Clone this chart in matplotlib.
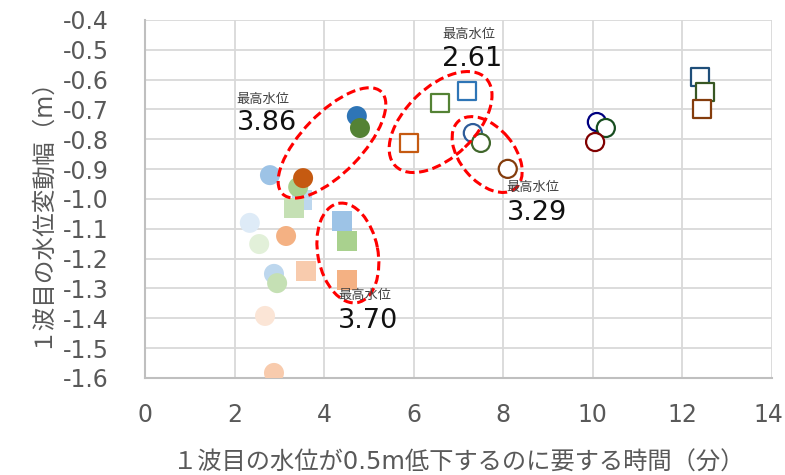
import matplotlib
matplotlib.use("Agg")
import matplotlib.pyplot as plt
from matplotlib.patches import Ellipse
from matplotlib import transforms

plt.rcParams['font.family'] = ['DejaVu Sans', 'Noto Sans CJK JP']

# filled circles (light ones first so the darker ones sit on top)
fc_x = [2.34, 2.55, 2.68, 2.88, 2.95, 2.88, 2.79, 3.42, 3.15, 4.73, 4.80, 3.53]
fc_y = [-1.080, -1.151, -1.392, -1.251, -1.282, -1.583, -0.920, -0.960, -1.124, -0.722, -0.762, -0.930]
fc_col = ['#DEEBF7', '#E2F0D9', '#FBE5D6', '#BDD7EE', '#C5E0B4', '#F8CBAD',
          '#9DC3E6', '#A9D18E', '#F4B183', '#2E75B6', '#548235', '#C55A11']

# filled squares
fs_x = [3.51, 3.33, 3.59, 4.40, 4.51, 4.51]
fs_y = [-1.003, -1.030, -1.241, -1.074, -1.141, -1.272]
fs_col = ['#BDD7EE', '#C5E0B4', '#F8CBAD', '#9DC3E6', '#A9D18E', '#F4B183']

# hollow squares
hs_x = [5.89, 6.59, 7.19, 12.39, 12.50, 12.44]
hs_y = [-0.812, -0.678, -0.638, -0.591, -0.641, -0.698]
hs_col = ['#C55A11', '#548235', '#2E75B6', '#1F4E79', '#385723', '#843C0C']

# hollow circles
hc_x = [7.32, 7.50, 8.10, 10.09, 10.29, 10.05]
hc_y = [-0.779, -0.812, -0.899, -0.742, -0.762, -0.809]
hc_col = ['#2E5C99', '#41672C', '#843C0C', '#000080', '#184D20', '#800000']

# 最高水位 annotations
ann_vals = ['3.86', '2.61', '3.29', '3.70']
ann_x = [2.05, 6.63, 8.08, 4.31]
ann_y_title = [-0.665, -0.447, -0.960, -1.325]
ann_y_val = [-0.744, -0.532, -1.047, -1.410]

# dashed groupings: centre (data), full width/height (px), angle (deg)
ell_cx = [4.175, 6.60, 7.64, 4.53]
ell_cy = [-0.812, -0.742, -0.851, -1.181]
ell_w = [142, 126, 88, 101]
ell_h = [60, 70, 54, 60]
ell_ang = [46, 44, 130, 101]

xticks = [0, 2, 4, 6, 8, 10, 12, 14]
yticks = [-0.4, -0.5, -0.6, -0.7, -0.8, -0.9, -1.0, -1.1, -1.2, -1.3, -1.4, -1.5, -1.6]

fig = plt.figure(figsize=(7.85, 4.75), dpi=100)
ax = fig.add_axes([145 / 785, 1 - 378 / 475, 627 / 785, 358 / 475])

ms = 14.4
ax.scatter(fs_x, fs_y, s=ms ** 2, marker='s', c=fs_col, linewidths=0, zorder=3)
ax.scatter(fc_x, fc_y, s=ms ** 2, marker='o', c=fc_col, linewidths=0, zorder=3)
ax.scatter(hs_x, hs_y, s=13 ** 2, marker='s', facecolors='white', edgecolors=hs_col,
           linewidths=1.6, zorder=4)
ax.scatter(hc_x, hc_y, s=13 ** 2, marker='o', facecolors='white', edgecolors=hc_col,
           linewidths=1.6, zorder=4)

# ellipses sized in screen units, placed at a data point
for cx, cy, w, h, a in zip(ell_cx, ell_cy, ell_w, ell_h, ell_ang):
    tr = fig.dpi_scale_trans + transforms.ScaledTranslation(cx, cy, ax.transData)
    e = Ellipse((0, 0), w / 100, h / 100, angle=a, transform=tr, fill=False,
                edgecolor='#FF0000', linestyle=(0, (3, 1.5)), linewidth=2.2, zorder=5)
    ax.add_patch(e)

for x, yt, yv, v in zip(ann_x, ann_y_title, ann_y_val, ann_vals):
    ax.text(x, yt, '最高水位', fontsize=9.5, color='#404040', ha='left', va='center',
            family=['Noto Sans CJK JP'], zorder=6)
    ax.text(x, yv, v, fontsize=19.5, color='#111111', ha='left', va='center', zorder=6)

ax.set_xlim(0, 14)
ax.set_ylim(-1.6, -0.4)
ax.set_xticks(xticks)
ax.set_yticks(yticks)
ax.set_yticklabels([f'{t:.1f}' for t in yticks])
ax.tick_params(length=0, labelsize=17, labelcolor='#595959')
ax.tick_params(axis='y', pad=26)
ax.tick_params(axis='x', pad=18)

# keep the last x label inside the canvas
last = ax.get_xticklabels()[-1]
last.set_transform(last.get_transform() + transforms.ScaledTranslation(-4 / 100, 0, fig.dpi_scale_trans))

ax.grid(True, color='#D9D9D9', linewidth=1.3, zorder=0)
ax.set_axisbelow(True)
for side in ['top', 'right']:
    ax.spines[side].set_visible(False)
for side in ['left', 'bottom']:
    ax.spines[side].set_color('#BFBFBF')
    ax.spines[side].set_linewidth(1.5)

ax.set_xlabel('１波目の水位が0.5m低下するのに要する時間（分）', fontsize=17.5,
              color='#595959', va='center')
ax.xaxis.set_label_coords(0.5, -0.236)
ax.set_ylabel('１波目の水位変動幅（m）', fontsize=17, color='#595959', va='center')
ax.yaxis.set_label_coords(-0.167, 0.480)

fig.savefig('out.png', dpi=100)
